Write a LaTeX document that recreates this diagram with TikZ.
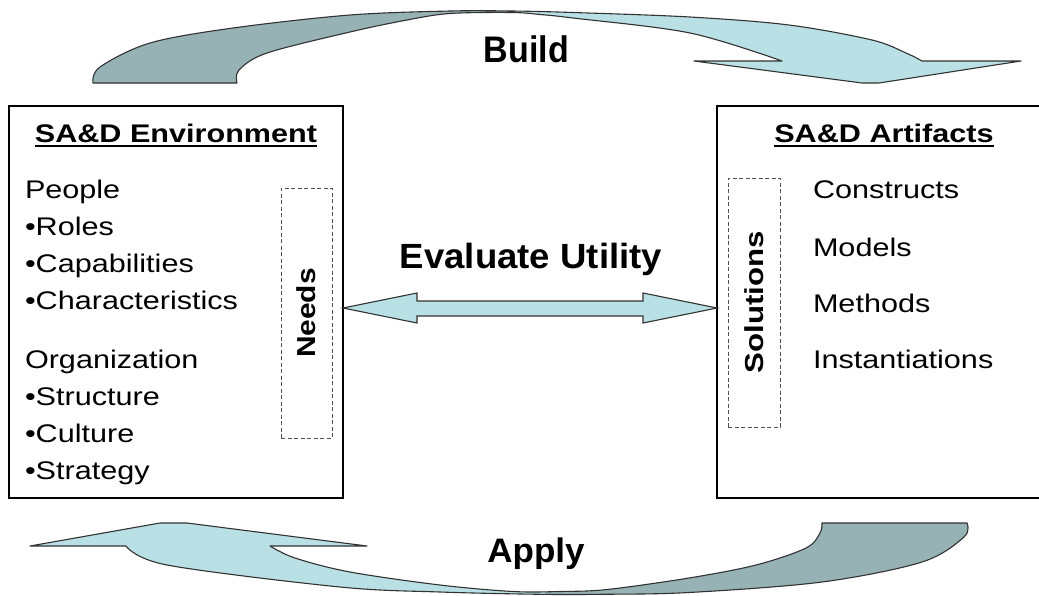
\documentclass[tikz,border=0pt]{standalone}
\usepackage{fontspec}
\setmainfont{Liberation Sans}
\definecolor{arcdark}{RGB}{150,178,181}
\definecolor{arclight}{RGB}{185,224,228}
\definecolor{edgegray}{RGB}{50,50,50}
\definecolor{dashgray}{RGB}{80,80,80}
\newcommand{\hstretch}[2]{\scalebox{#1}[1]{#2}}
\newcommand{\buildshape}{plot[smooth, tension=0.55] coordinates {(237,83) (239,70) (267,53) (350,32) (407,20) (450,13.5) (512,12.5) (540,14.5) (573,18) (690,33) (782,61)}
 -- (694,61) -- (862,83) -- (879,83) -- (1021,61) -- (922,61)
 -- plot[smooth, tension=0.55] coordinates {(922,61) (906,53) (872,40) (789,25) (690,17) (573,12.5) (512,11) (450,11) (350,15) (233,28) (150,43) (100,67) (93,83)}
 -- cycle}
\newcommand{\applyshape}{plot[smooth, tension=0.55] coordinates {(270,546) (295,558) (350,572) (440,585) (513,591.5) (560,591.5) (607,589.5) (689,578) (756,565) (806,548) (820,533) (822,523)}
 -- (967,523)
 -- plot[smooth, tension=0.55] coordinates {(967,523) (964,537) (922,562) (822,582) (689,592.5) (600,594.3) (540,594.3) (440,592) (340,587) (167,565) (126,546)}
 -- (30,546) -- (160,523) -- (187,523) -- (367,546) -- cycle}
\tikzset{
  x=1pt, y=-1pt,
  mainbox/.style={draw, line width=2pt, inner sep=0, outer sep=0, anchor=north west},
  dashbox/.style={draw=dashgray, line width=1pt, dash pattern=on 4pt off 2.5pt, inner sep=0, outer sep=0, anchor=north west},
  itemtxt/.style={font=\fontsize{25.5}{30}\selectfont, inner sep=0, outer sep=0, anchor=base west},
  titletxt/.style={font=\bfseries\fontsize{25.5}{30}\selectfont, inner sep=0, outer sep=0, anchor=base},
  sidetxt/.style={font=\bfseries\fontsize{26}{30}\selectfont, inner sep=0, rotate=90},
  bigtxt/.style={font=\bfseries\fontsize{35}{40}\selectfont, inner sep=0, anchor=base},
  arcedge/.style={draw=edgegray, line width=1.1pt, line join=round},
}
\begin{document}
\begin{tikzpicture}
\useasboundingbox (0,0) rectangle (1039,595);
% Build arc
\fill[arclight] \buildshape;
\begin{scope}
  \clip (0,0) rectangle (495,120);
  \fill[arcdark] \buildshape;
\end{scope}
\draw[arcedge] \buildshape;
% Apply arc
\fill[arclight] \applyshape;
\begin{scope}
  \clip (545,480) rectangle (1045,600);
  \fill[arcdark] \applyshape;
\end{scope}
\draw[arcedge] \applyshape;

\node[bigtxt, font=\bfseries\fontsize{37}{40}\selectfont] (build) at (526.5,62) {\hstretch{0.92}{Build}};
\node[bigtxt, font=\bfseries\fontsize{34}{40}\selectfont] (apply) at (536,562) {\hstretch{1.03}{Apply}};

% boxes
\node[mainbox, minimum width=334pt, minimum height=392pt] (env) at (9,106) {};
\node[mainbox, minimum width=330pt, minimum height=392pt] (art) at (717,106) {};
\node[dashbox, minimum width=51pt, minimum height=250pt] (needsbox) at (281,188) {};
\node[dashbox, minimum width=52pt, minimum height=249pt] (solbox) at (728,178) {};

% titles
\node[titletxt] (envtitle) at (176,142) {\hstretch{1.2}{SA\&D Environment}};
\draw[line width=2pt] ([yshift=-4pt]envtitle.base west) -- ([yshift=-4pt]envtitle.base east);
\node[titletxt] (arttitle) at (884,142) {\hstretch{1.2}{SA\&D Artifacts}};
\draw[line width=2pt] ([yshift=-4pt]arttitle.base west) -- ([yshift=-4pt]arttitle.base east);

% left list
\node[itemtxt] (l1) at (25,198) {\hstretch{1.2}{People}};
\node[itemtxt] (l2) at (25,235) {\hstretch{1.2}{•Roles}};
\node[itemtxt] (l3) at (25,272) {\hstretch{1.2}{•Capabilities}};
\node[itemtxt] (l4) at (25,309) {\hstretch{1.2}{•Characteristics}};
\node[itemtxt] (l5) at (25,368) {\hstretch{1.2}{Organization}};
\node[itemtxt] (l6) at (25,405) {\hstretch{1.2}{•Structure}};
\node[itemtxt] (l7) at (25,442) {\hstretch{1.2}{•Culture}};
\node[itemtxt] (l8) at (25,479) {\hstretch{1.2}{•Strategy}};

% right list
\node[itemtxt] (r1) at (813,198) {\hstretch{1.2}{Constructs}};
\node[itemtxt] (r2) at (813,256) {\hstretch{1.2}{Models}};
\node[itemtxt] (r3) at (813,312) {\hstretch{1.2}{Methods}};
\node[itemtxt] (r4) at (813,368) {\hstretch{1.2}{Instantiations}};

% side labels
\node[sidetxt] (needs) at (306,313) {\hstretch{1.15}{Needs}};
\node[sidetxt] (sol) at (754,302) {\hstretch{1.2}{Solutions}};

% evaluate utility
\node[bigtxt] (evalu) at (531,268) {\hstretch{1.045}{Evaluate Utility}};
\fill[arclight, draw=edgegray, line width=1.1pt, line join=miter]
  (env.east |- 0,308) -- (417,293) -- (417,301) -- (643,301) -- (643,293)
  -- (art.west |- 0,308) -- (643,323) -- (643,316) -- (417,316) -- (417,323) -- cycle;
\end{tikzpicture}
\end{document}
